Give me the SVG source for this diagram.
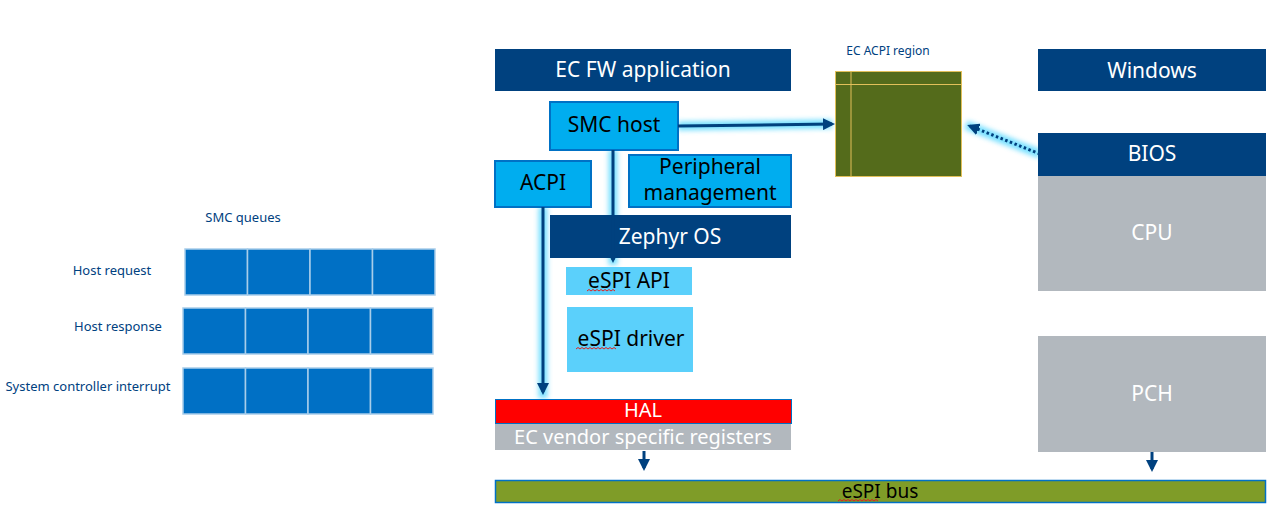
<svg xmlns="http://www.w3.org/2000/svg" width="1278" height="513" viewBox="0 0 1278 513">
<style>
text{font-family:"Noto Sans","Open Sans","Liberation Sans",sans-serif}
.dk{fill:#00417f}
.lb{fill:#00adef;stroke:#0071c5;stroke-width:2}
.pb{fill:#5bd0fb}
.gr{fill:#b2b8be}
.cell{fill:#0070c5;stroke:#a8cdea;stroke-width:1.5}
.wt{fill:#fff;font-size:21px;text-anchor:middle}
.bk{fill:#000;font-size:21px;text-anchor:middle}
.lbl{fill:#00417f;font-size:13px;text-anchor:middle}
.ln{stroke:#00417f;stroke-width:3;fill:none}
.glow{stroke:#55d8ff;stroke-width:9;fill:none;opacity:0.8;filter:url(#blur)}
.sq{stroke:#e02020;stroke-width:1;fill:none}
</style>
<defs>
<filter id="blur" filterUnits="userSpaceOnUse" x="0" y="0" width="1278" height="513"><feGaussianBlur stdDeviation="2.5"/></filter>
<marker id="ah" markerWidth="4" markerHeight="4" refX="3" refY="2" orient="auto" markerUnits="strokeWidth"><path d="M0,0 L4,2 L0,4 Z" fill="#00417f"/></marker>
</defs>
<rect width="1278" height="513" fill="#fff"/>

<g id="smc-queues">
<text class="lbl" x="243" y="222">SMC queues</text>
<text class="lbl" x="112" y="275">Host request</text>
<text class="lbl" x="118" y="331">Host response</text>
<text class="lbl" x="88" y="391">System controller interrupt</text>
<rect class="cell" x="185" y="249" width="62.5" height="46"/>
<rect class="cell" x="247.5" y="249" width="62.5" height="46"/>
<rect class="cell" x="310" y="249" width="62.5" height="46"/>
<rect class="cell" x="372.5" y="249" width="62.5" height="46"/>
<rect class="cell" x="183" y="308" width="62.5" height="46"/>
<rect class="cell" x="245.5" y="308" width="62.5" height="46"/>
<rect class="cell" x="308" y="308" width="62.5" height="46"/>
<rect class="cell" x="370.5" y="308" width="62.5" height="46"/>
<rect class="cell" x="183" y="368" width="62.5" height="46"/>
<rect class="cell" x="245.5" y="368" width="62.5" height="46"/>
<rect class="cell" x="308" y="368" width="62.5" height="46"/>
<rect class="cell" x="370.5" y="368" width="62.5" height="46"/>
</g>

<g id="connectors">
<path class="glow" d="M678,126 L832,124"/>
<path class="glow" d="M1040,154 L966,125"/>
<path class="glow" d="M613,150 L613,265"/>
<path class="glow" d="M543,207 L543,398"/>
</g>

<g id="ec-fw-app"><rect class="dk" x="495" y="49" width="296" height="42"/><text class="wt" x="643" y="77">EC FW application</text></g>
<g id="smc-host"><rect class="lb" x="550" y="102" width="128" height="48"/><text class="bk" x="614" y="132">SMC host</text></g>
<g id="acpi"><rect class="lb" x="495" y="161" width="96" height="46"/><text class="bk" x="543" y="190">ACPI</text></g>
<g id="peripheral"><rect class="lb" x="629" y="155" width="162" height="52"/><text class="bk" x="710" y="174">Peripheral</text><text class="bk" x="710" y="200">management</text></g>
<g id="zephyr"><rect class="dk" x="550" y="215" width="241" height="43"/><text class="wt" x="670" y="244">Zephyr OS</text></g>
<g id="espi-api"><rect class="pb" x="566" y="267" width="126" height="28"/><text class="bk" x="629" y="288">eSPI API</text><path class="sq" d="M587,291 l2,-1.5 l2,1.5 l2,-1.5 l2,1.5 l2,-1.5 l2,1.5 l2,-1.5 l2,1.5 l2,-1.5 l2,1.5 l2,-1.5 l2,1.5 l2,-1.5 l2,1.5"/></g>
<g id="espi-driver"><rect class="pb" x="567" y="307" width="126" height="65"/><text class="bk" x="631" y="346">eSPI driver</text><path class="sq" d="M576,349 l2,-1.5 l2,1.5 l2,-1.5 l2,1.5 l2,-1.5 l2,1.5 l2,-1.5 l2,1.5 l2,-1.5 l2,1.5 l2,-1.5 l2,1.5 l2,-1.5 l2,1.5 l2,-1.5 l2,1.5 l2,-1.5 l2,1.5 l2,-1.5 l2,1.5"/></g>
<g id="hal"><rect x="495.5" y="399.5" width="296" height="24" fill="#ff0000" stroke="#0071c5" stroke-width="1"/><text class="wt" x="643" y="417" style="font-size:20px">HAL</text></g>
<g id="ec-vendor"><rect class="gr" x="495" y="424" width="296" height="26"/><text class="wt" x="643" y="444" style="font-size:20px">EC vendor specific registers</text></g>
<g id="espi-bus"><rect x="495.5" y="480.5" width="770" height="22" fill="#7f9c28" stroke="#0071c5" stroke-width="1.5"/><text class="bk" x="880" y="498" style="font-size:19px">eSPI bus</text><path class="sq" d="M838,501 l2,-1.5 l2,1.5 l2,-1.5 l2,1.5 l2,-1.5 l2,1.5 l2,-1.5 l2,1.5 l2,-1.5 l2,1.5 l2,-1.5 l2,1.5 l2,-1.5 l2,1.5 l2,-1.5 l2,1.5 l2,-1.5 l2,1.5 l2,-1.5 l2,1.5"/></g>

<g id="ec-acpi-region">
<text class="lbl" x="888" y="55" style="font-size:12px">EC ACPI region</text>
<rect x="835.5" y="71.5" width="126" height="105" fill="#546b1b" stroke="#e2c05a" stroke-width="1"/>
<line x1="851" y1="71.5" x2="851" y2="176.5" stroke="#e2c05a" stroke-width="1"/>
<line x1="835.5" y1="84.5" x2="961.5" y2="84.5" stroke="#e2c05a" stroke-width="1"/>
</g>

<g id="windows"><rect class="dk" x="1038" y="49" width="228" height="42"/><text class="wt" x="1152" y="78">Windows</text></g>
<g id="bios"><rect class="dk" x="1038" y="133" width="228" height="43"/><text class="wt" x="1152" y="161">BIOS</text></g>
<g id="cpu"><rect class="gr" x="1038" y="176" width="228" height="115"/><text class="wt" x="1152" y="240">CPU</text></g>
<g id="pch"><rect class="gr" x="1038" y="336" width="228" height="116"/><text class="wt" x="1152" y="401">PCH</text></g>

<g id="connector-lines">
<path class="ln" d="M678,126 L832,124" marker-end="url(#ah)" stroke-width="2.5"/>
<path d="M1040,154 L970,126" stroke="#00417f" stroke-width="3" stroke-dasharray="2.5 2.5" fill="none" marker-end="url(#ah)"/>
<path class="ln" d="M613,150 L613,260" marker-end="url(#ah)" stroke-width="2.5"/>
<path class="ln" d="M543,207 L543,392" marker-end="url(#ah)" stroke-width="2.5"/>
<path class="ln" d="M644,451 L644,468" marker-end="url(#ah)" stroke-width="2.5"/>
<path class="ln" d="M1152,452 L1152,469" marker-end="url(#ah)" stroke-width="2.5"/>
</g>
</svg>
